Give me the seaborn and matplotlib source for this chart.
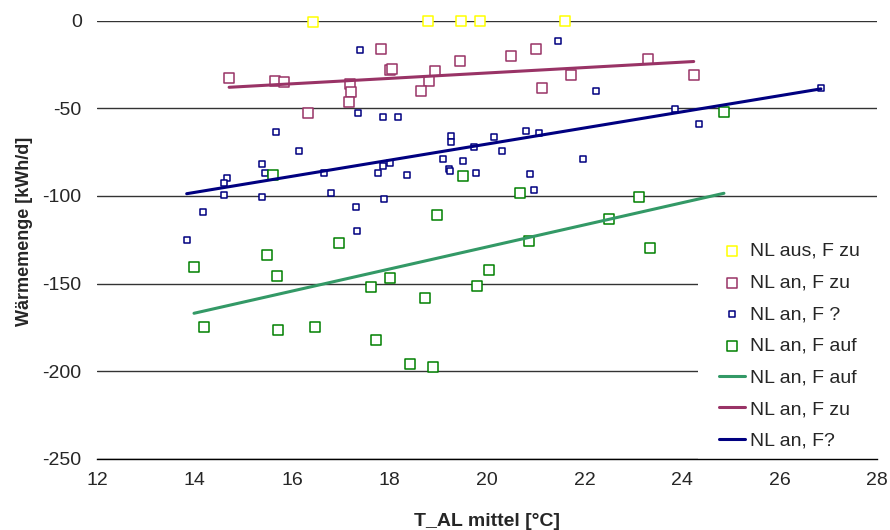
import numpy as np
import pandas as pd
import matplotlib
matplotlib.use("Agg")
import matplotlib.pyplot as plt
import seaborn as sns

# ---- data ----
aus_zu_x = [16.43, 18.78, 19.47, 19.86, 21.61]
aus_zu_y = [-1.0, 0.0, 0.0, 0.0, 0.0]

an_zu_x = [14.71, 15.66, 15.84, 17.19, 17.22, 17.17, 16.32, 17.83, 18.02, 18.05,
           18.93, 18.82, 18.64, 19.45, 20.49, 21.01, 21.13, 21.72, 23.30, 24.24]
an_zu_y = [-32.5, -34.2, -35.0, -36.0, -40.7, -46.4, -52.5, -16.2, -28.1, -27.5,
           -28.7, -34.2, -40.1, -23.2, -20.3, -16.3, -38.4, -30.8, -22.0, -31.2]

an_q_x = [17.40, 21.45, 22.23, 23.85, 24.35, 26.85, 17.35, 17.87, 18.17, 15.68,
          16.14, 19.26, 19.26, 19.74, 20.15, 20.79, 21.07, 20.31, 19.09, 19.50,
          21.96, 15.38, 17.86, 18.00, 15.45, 16.65, 17.77, 14.67, 14.61, 18.36,
          19.23, 19.25, 19.77, 20.88, 20.97, 14.61, 15.38, 16.80, 17.89, 14.18,
          17.31, 17.33, 13.84]
an_q_y = [-16.9, -11.6, -40.0, -50.6, -59.1, -38.6, -52.5, -55.1, -55.1, -63.5,
          -74.4, -65.6, -69.4, -71.9, -66.4, -63.1, -63.9, -74.4, -78.9, -80.3,
          -78.9, -81.6, -82.8, -81.4, -86.9, -86.9, -86.8, -89.6, -92.8, -88.1,
          -84.8, -85.8, -87.1, -87.7, -96.4, -99.5, -100.6, -98.5, -101.8, -109.2,
          -106.3, -120.2, -125.0]

an_auf_x = [15.61, 19.50, 24.86, 16.96, 15.49, 13.99, 15.69, 17.62, 18.00, 14.19,
            15.71, 16.47, 17.72, 18.98, 20.68, 23.11, 22.50, 23.34, 20.86, 20.04,
            19.79, 18.72, 18.43, 18.89]
an_auf_y = [-87.9, -88.6, -51.9, -127.1, -133.9, -140.4, -145.7, -152.2, -146.7, -174.7,
            -176.4, -174.7, -182.3, -110.7, -98.2, -100.5, -113.2, -129.9, -125.7, -142.1,
            -151.3, -158.4, -195.9, -197.7]

x_ticks = [12, 14, 16, 18, 20, 22, 24, 26, 28]
y_ticks = [0, -50, -100, -150, -200, -250]

# ---- style ----
sns.set_style("white")
plt.rcParams['font.family'] = ['Liberation Sans', 'DejaVu Sans']

fig = plt.figure(figsize=(8.9, 5.3), dpi=100)
ax = fig.add_axes([97/890, 1 - 458.7/530, (877 - 97)/890, (458.7 - 20.7)/530])

c_yellow = "#FFFF00"
c_pink = "#993366"
c_blue = "#000080"
c_green = "#008000"
c_green_line = "#339966"

sns.scatterplot(x=aus_zu_x, y=aus_zu_y, marker="s", s=44, facecolor="white",
                edgecolor=c_yellow, linewidth=1.1, label="NL aus, F zu", ax=ax, zorder=3)
sns.scatterplot(x=an_zu_x, y=an_zu_y, marker="s", s=48, facecolor="white",
                edgecolor=c_pink, linewidth=1.1, label="NL an, F zu", ax=ax, zorder=3)
sns.scatterplot(x=an_q_x, y=an_q_y, marker="s", s=24, facecolor="white",
                edgecolor=c_blue, linewidth=1.1, label="NL an, F ?", ax=ax, zorder=3)
sns.scatterplot(x=an_auf_x, y=an_auf_y, marker="s", s=48, facecolor="white",
                edgecolor=c_green, linewidth=1.1, label="NL an, F auf", ax=ax, zorder=3)
for coll in ax.collections:
    coll.set_clip_on(False)

sns.regplot(x=np.array(an_auf_x), y=np.array(an_auf_y), scatter=False, ci=None,
            truncate=True, color=c_green_line, line_kws={"lw": 2.2, "zorder": 4},
            label="NL an, F auf", ax=ax)
sns.regplot(x=np.array(an_zu_x), y=np.array(an_zu_y), scatter=False, ci=None,
            truncate=True, color=c_pink, line_kws={"lw": 2.2, "zorder": 4},
            label="NL an, F zu", ax=ax)
sns.regplot(x=np.array(an_q_x), y=np.array(an_q_y), scatter=False, ci=None,
            truncate=True, color=c_blue, line_kws={"lw": 2.2, "zorder": 4},
            label="NL an, F?", ax=ax)

ax.set_xlim(12, 28)
ax.set_ylim(-250, 0)
ax.set_xticks(x_ticks)
ax.set_yticks(y_ticks)
ax.set_xticklabels([str(t) for t in x_ticks], fontsize=14)
ax.set_yticklabels([str(t) for t in y_ticks], fontsize=14)
ax.tick_params(axis="x", length=0, pad=9.5)
ax.tick_params(axis="y", length=0, pad=11)
ax.yaxis.grid(True, color="#333333", lw=1)
ax.xaxis.grid(False)
for s in ["left", "right", "top"]:
    ax.spines[s].set_visible(False)
ax.spines["bottom"].set_color("black")
ax.spines["bottom"].set_linewidth(1)

ax.set_xlabel("T_AL mittel [°C]", fontsize=14, fontweight="bold", labelpad=17)
ax.set_ylabel("Wärmemenge [kWh/d]", fontsize=13, fontweight="bold")
ax.yaxis.set_label_coords(-0.082, 0.518)

handles, labels = ax.get_legend_handles_labels()
leg = ax.legend(handles, labels, loc="upper left", bbox_to_anchor=(698/890, 1 - 221/530),
                bbox_transform=fig.transFigure, frameon=True, fontsize=14,
                labelspacing=0.72, handlelength=1.3, handletextpad=0.3, borderpad=1.1,
                borderaxespad=0, fancybox=False, framealpha=1)
leg.get_frame().set_facecolor("white")
leg.get_frame().set_edgecolor("none")
leg.set_zorder(2)

fig.savefig("out.png", dpi=100)
